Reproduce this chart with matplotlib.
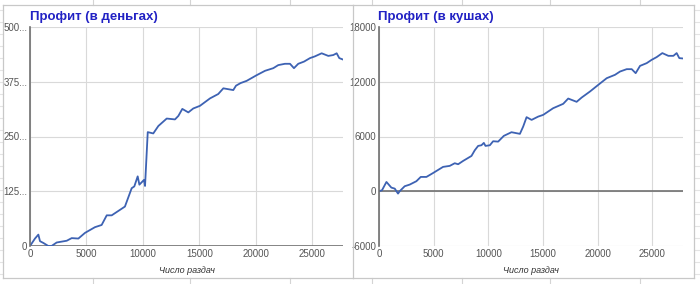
import matplotlib
matplotlib.use("Agg")
import matplotlib.pyplot as plt
from matplotlib.lines import Line2D

# Profit in money (left chart)
money_hands = [0, 440, 740, 885, 1180, 1620, 1910, 2360, 3250, 3690, 4280, 4870,
               5750, 6340, 6790, 7230, 8400, 9000, 9230, 9530, 9680, 10090, 10180,
               10420, 10910, 11360, 12100, 12830, 13130, 13480, 14010, 14450, 15040,
               15930, 16660, 17110, 17550, 17990, 18230, 18640, 19170, 20060, 20800,
               21530, 21970, 22560, 23010, 23360, 23740, 24250, 24780, 25220, 25810,
               26400, 26840, 27140, 27370, 27670]
money_profit = [0, 17, 26, 11, 7, 0, 0, 8, 12, 18, 17, 30,
                43, 48, 70, 70, 90, 132, 136, 159, 140, 151, 137,
                260, 257, 274, 291, 289, 297, 313, 305, 314, 320,
                337, 347, 360, 358, 356, 366, 372, 377, 390, 400,
                406, 413, 416, 416, 406, 416, 421, 429, 433, 440,
                434, 436, 440, 429, 426]

# Profit in big blinds (right chart)
bb_hands = [0, 275, 680, 1130, 1440, 1740, 1890, 2350, 2810, 3420, 3820, 4340,
            4950, 5860, 6470, 6930, 7240, 7690, 8460, 8760, 9070, 9370, 9590,
            9740, 10140, 10440, 10900, 11420, 12120, 12890, 13190, 13500, 13960,
            14560, 15020, 15930, 16850, 17310, 18080, 18540, 19300, 20060, 20830,
            21590, 22050, 22660, 23120, 23480, 23880, 24490, 24940, 25400, 25920,
            26470, 26930, 27230, 27470, 27810]
bb_profit = [0, 110, 1020, 400, 290, -260, 0, 550, 730, 1100, 1570, 1570,
             2000, 2670, 2780, 3070, 2960, 3320, 3870, 4490, 4970, 5040, 5300,
             4970, 5040, 5480, 5440, 6070, 6470, 6290, 7090, 8120, 7820,
             8180, 8370, 9100, 9580, 10160, 9800, 10270, 10930, 11660, 12390,
             12760, 13120, 13380, 13380, 12940, 13740, 14040, 14400, 14700, 15140,
             14840, 14840, 15140, 14590, 14550]

x_ticks = [0, 5000, 10000, 15000, 20000, 25000]
money_ticks = [0, 125, 250, 375, 500]
money_labels = ["0", "125...", "250...", "375...", "500..."]
bb_ticks = [-6000, 0, 6000, 12000, 18000]
bb_labels = ["-6000", "0", "6000", "12000", "18000"]

W, H = 700, 284
fig = plt.figure(figsize=(W / 100, H / 100), dpi=100)
plt.rcParams['font.family'] = ['Liberation Sans', 'DejaVu Sans']

line_color = "#3d62b3"
grid_color = "#d9d9d9"
axis_color = "#707070"
title_color = "#2222c4"
text_color = "#555555"
sheet_color = "#d4d4d4"


def box(x0, x1, ytop, ybot):
    return [x0 / W, 1 - ybot / H, (x1 - x0) / W, (ybot - ytop) / H]


# spreadsheet bits around the charts
for x in [93, 190, 290, 372, 462, 550, 640]:
    fig.add_artist(Line2D([x / W, x / W], [1, 1 - 5 / H], color=sheet_color, lw=0.8))
    fig.add_artist(Line2D([x / W, x / W], [1 - 278 / H, 0], color=sheet_color, lw=0.8))
for y in range(10, 280, 12):
    fig.add_artist(Line2D([694 / W, 1], [1 - y / H, 1 - y / H], color="#e4e4e4", lw=0.8))
    fig.add_artist(Line2D([0, 3 / W], [1 - y / H, 1 - y / H], color="#e4e4e4", lw=0.8))

# chart frames
for x0, x1 in [(3, 353), (353, 694)]:
    fig.add_artist(Line2D([x0 / W, x1 / W], [1 - 5 / H, 1 - 5 / H], color="#c8c8c8", lw=0.9))
    fig.add_artist(Line2D([x0 / W, x1 / W], [1 - 278 / H, 1 - 278 / H], color="#c8c8c8", lw=0.9))
    fig.add_artist(Line2D([x0 / W, x0 / W], [1 - 5 / H, 1 - 278 / H], color="#c8c8c8", lw=0.9))
fig.add_artist(Line2D([694 / W, 694 / W], [1 - 5 / H, 1 - 278 / H], color="#c8c8c8", lw=0.9))


def setup(ax, yticks, ylabels, ylim, xmax):
    ax.set_xlim(0, xmax)
    ax.set_ylim(*ylim)
    ax.set_xticks(x_ticks)
    ax.set_yticks(yticks)
    ax.set_yticklabels(ylabels)
    ax.tick_params(length=0, labelsize=7, labelcolor=text_color, pad=2)
    ax.grid(True, color=grid_color, lw=0.8)
    ax.set_axisbelow(True)
    for s in ["top", "right", "bottom"]:
        ax.spines[s].set_visible(False)
    ax.spines["left"].set_color(axis_color)
    ax.spines["left"].set_linewidth(1.2)
    ax.set_xlabel("Число раздач", fontsize=6.5, style="italic", color="#333333", labelpad=5)


ax1 = fig.add_axes(box(30, 343, 27, 246))
setup(ax1, money_ticks, money_labels, (0, 500), 27700)
ax1.axhline(0, color=axis_color, lw=1.2)
ax1.plot(money_hands, money_profit, color=line_color, lw=1.3)
fig.text(30 / W, 1 - 20 / H, "Профит (в деньгах)", fontsize=9.5, weight="bold", color=title_color)

ax2 = fig.add_axes(box(379, 683, 27, 246))
setup(ax2, bb_ticks, bb_labels, (-6000, 18000), 27810)
ax2.axhline(0, color=axis_color, lw=1.2)
ax2.plot(bb_hands, bb_profit, color=line_color, lw=1.3)
fig.text(378 / W, 1 - 20 / H, "Профит (в кушах)", fontsize=9.5, weight="bold", color=title_color)

plt.savefig("out.png", dpi=100)
